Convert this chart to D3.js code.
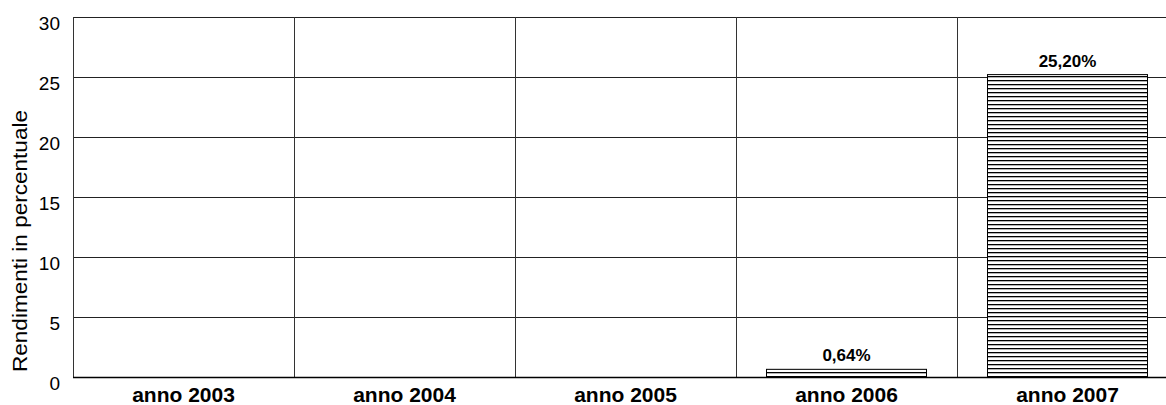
<!DOCTYPE html>
<html>
<head>
<meta charset="utf-8">
<script src="https://cdn.jsdelivr.net/npm/d3@7"></script>
<style>
  html, body { margin: 0; padding: 0; background: #fff; }
  svg { display: block; font-family: "Liberation Sans", Arial, sans-serif; }
</style>
</head>
<body>
<svg id="chart" width="1166" height="405"></svg>
<script>
// Rendimenti annui (percentuale); null = nessun dato
const categories = ["anno 2003", "anno 2004", "anno 2005", "anno 2006", "anno 2007"];
const values = [null, null, null, 0.64, 25.20];
const yTicks = [0, 5, 10, 15, 20, 25, 30];
const yTitle = "Rendimenti in percentuale";

const svg = d3.select("#chart");
const W = 1166;
const plotLeft = 73, plotTop = 17, plotBottom = 377, bandStep = 221;

const x = d3.scaleBand()
  .domain(categories)
  .range([plotLeft, plotLeft + bandStep * categories.length])
  .paddingInner(0.276)
  .paddingOuter(0.138);

const y = d3.scaleLinear().domain([0, 30]).range([plotBottom, plotTop]);

// striped fill for the bars
const defs = svg.append("defs");
const pat = defs.append("pattern")
  .attr("id", "stripes")
  .attr("patternUnits", "userSpaceOnUse")
  .attr("width", 8).attr("height", 4);
pat.append("rect").attr("width", 8).attr("height", 4).attr("fill", "#fff");
pat.append("rect").attr("y", 0).attr("width", 8).attr("height", 1.3).attr("fill", "#000");

const fmt = v => v.toFixed(2).replace(".", ",") + "%";

// horizontal gridlines
svg.append("g").selectAll("line")
  .data(yTicks)
  .join("line")
  .attr("x1", plotLeft).attr("x2", W)
  .attr("y1", d => Math.round(y(d)) + 0.5)
  .attr("y2", d => Math.round(y(d)) + 0.5)
  .attr("stroke", "#222").attr("stroke-width", 1);

// vertical separators between categories, plus the left axis line
const boundaries = [plotLeft].concat(categories.slice(1).map(c => x(c) - x.step() * x.paddingInner() / 2));
svg.append("g").selectAll("line")
  .data(boundaries)
  .join("line")
  .attr("x1", d => Math.round(d) + 0.5).attr("x2", d => Math.round(d) + 0.5)
  .attr("y1", plotTop).attr("y2", plotBottom + 0.5)
  .attr("stroke", "#333").attr("stroke-width", 1);

// y axis labels
const yAxis = d3.axisLeft(y).tickValues(yTicks).tickSize(0).tickPadding(13);
const gy = svg.append("g").attr("transform", `translate(${plotLeft},0)`).call(yAxis);
gy.select(".domain").remove();
gy.selectAll("text")
  .attr("font-family", "Liberation Sans, Arial, sans-serif")
  .attr("font-size", 19)
  .attr("fill", "#000")
  .attr("dy", "0.68em");

// axis title
svg.append("text")
  .attr("transform", "translate(27,241) rotate(-90)")
  .attr("text-anchor", "middle")
  .attr("font-size", 20)
  .attr("textLength", 262)
  .attr("lengthAdjust", "spacingAndGlyphs")
  .attr("fill", "#000")
  .text(yTitle);

// bars
const data = categories.map((c, i) => ({ c, v: values[i] })).filter(d => d.v != null);
svg.append("g").selectAll("rect")
  .data(data)
  .join("rect")
  .attr("x", d => Math.round(x(d.c)) + 0.5)
  .attr("y", d => y(d.v))
  .attr("width", Math.round(x.bandwidth()))
  .attr("height", d => y(0) - y(d.v))
  .attr("fill", "url(#stripes)")
  .attr("stroke", "#000").attr("stroke-width", 1);

// value labels
svg.append("g").selectAll("text")
  .data(data)
  .join("text")
  .attr("x", d => x(d.c) + x.bandwidth() / 2)
  .attr("y", d => y(d.v) - 8)
  .attr("text-anchor", "middle")
  .attr("font-size", 17)
  .attr("font-weight", "bold")
  .attr("fill", "#000")
  .text(d => fmt(d.v));

// x axis line
svg.append("line")
  .attr("x1", plotLeft).attr("x2", W)
  .attr("y1", plotBottom + 0.5).attr("y2", plotBottom + 0.5)
  .attr("stroke", "#000").attr("stroke-width", 1.5);

// category labels
svg.append("g").selectAll("text")
  .data(categories)
  .join("text")
  .attr("x", d => x(d) + x.bandwidth() / 2)
  .attr("y", 402)
  .attr("text-anchor", "middle")
  .attr("font-size", 21)
  .attr("font-weight", "bold")
  .attr("fill", "#000")
  .text(d => d);
</script>
</body>
</html>
